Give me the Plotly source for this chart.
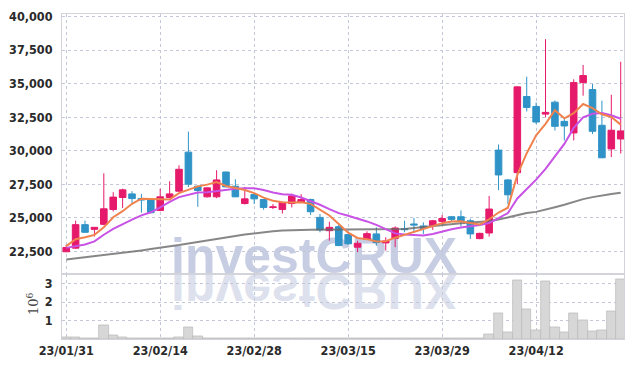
import plotly.graph_objects as go
from plotly.subplots import make_subplots

dates = [
    "23/01/31",
    "23/02/01", "23/02/02", "23/02/03", "23/02/06", "23/02/07", "23/02/08", "23/02/09", "23/02/10", "23/02/13", "23/02/14",
    "23/02/15", "23/02/16", "23/02/17", "23/02/20", "23/02/21", "23/02/22", "23/02/23", "23/02/24", "23/02/27", "23/02/28",
    "23/03/02", "23/03/03", "23/03/06", "23/03/07", "23/03/08", "23/03/09", "23/03/10", "23/03/13", "23/03/14", "23/03/15",
    "23/03/16", "23/03/17", "23/03/20", "23/03/21", "23/03/22", "23/03/23", "23/03/24", "23/03/27", "23/03/28", "23/03/29",
    "23/03/30", "23/03/31", "23/04/03", "23/04/04", "23/04/05", "23/04/06", "23/04/07", "23/04/10", "23/04/11", "23/04/12",
    "23/04/13", "23/04/14", "23/04/17", "23/04/18", "23/04/19", "23/04/20", "23/04/21", "23/04/24", "23/04/25",
]

opens = [22480, 22750, 24500, 24150, 24520, 25630, 26520, 26790, 26450, 26370,
         25560, 26520, 26990, 29900, 27360, 26570, 26570, 28420, 27360, 26070,
         26740, 26370, 25780, 25630, 26070, 26180, 26370, 25040, 24050, 24350,
         23760, 22820, 23410, 23810, 23140, 23480, 24200, 24550, 24400, 24450,
         24740, 25090, 25090, 24790, 23460, 23880, 30050, 27830, 28370, 34040,
         33300, 32730, 33620, 32190, 31330, 35080, 34560, 31900, 30140, 30880]
highs = [23000, 24800, 24800, 24320, 28320, 26920, 27180, 26990, 26790, 26400,
         27180, 27730, 28920, 31430, 27400, 27250, 28550, 28440, 27880, 27310,
         26760, 26400, 26030, 26200, 26810, 26770, 26440, 25290, 24720, 24500,
         23800, 23300, 24000, 24300, 23560, 24370, 24790, 25000, 24670, 24850,
         25220, 25150, 25560, 24940, 23900, 26640, 30470, 27900, 34800, 35520,
         33600, 38310, 33750, 32390, 35320, 36390, 34980, 33730, 34170, 36630]
lows = [22450, 22700, 23900, 23610, 24450, 25480, 25730, 26070, 25390, 25350,
        25500, 26500, 26950, 27300, 25830, 26520, 26470, 27300, 26550, 26000,
        26030, 25610, 25660, 25330, 25780, 26150, 25220, 23930, 23310, 22900,
        23000, 22450, 23380, 22940, 22570, 22820, 23930, 23880, 23810, 24110,
        24500, 24700, 24370, 23440, 23410, 23610, 27070, 26030, 27510, 32930,
        31990, 32490, 31510, 30770, 30770, 34100, 31250, 29450, 29530, 29800]
closes = [22800, 24500, 23930, 24300, 25680, 26550, 27090, 26440, 26330, 25390,
          26570, 26790, 28620, 27510, 27040, 27240, 27830, 27310, 26570, 26420,
          26420, 25780, 25820, 26150, 26640, 26370, 25460, 24110, 24300, 22940,
          23070, 23110, 23830, 23170, 23290, 24250, 24130, 24480, 24220, 24790,
          24960, 24890, 24790, 23810, 23850, 25660, 28200, 26720, 34760, 33230,
          32140, 32860, 31820, 31850, 35080, 35600, 31450, 29480, 31530, 31480]

ma5 = [22900, 23410, 23560, 23740, 24300, 25050, 25500, 26050, 26430, 26400,
       26390, 26380, 26850, 27080, 27350, 27480, 27670, 27380, 27230, 27080,
       26850, 26510, 26280, 26170, 26150, 26170, 26050, 25620, 25180, 24550,
       23900, 23510, 23420, 23240, 23260, 23530, 23750, 23950, 24170, 24420,
       24610, 24730, 24760, 24630, 24520, 24900, 25400, 25760, 28200, 29820,
       31150, 32000, 33020, 32420, 32800, 33480, 33170, 32720, 32520, 31950]
ma20 = [22770, 22870, 23020, 23250, 23750, 24180, 24560, 24880, 25190, 25420,
        25780, 26200, 26550, 26740, 26890, 26920, 27010, 27110, 27180, 27210,
        27210, 27080, 26890, 26770, 26720, 26520, 26270, 25980, 25660, 25360,
        25160, 24960, 24740, 24480, 24180, 23850, 23760, 23710, 23690, 23810,
        24000, 24150, 24280, 24350, 24470, 24620, 24990, 25360, 26450, 27140,
        27850, 28660, 29550, 30510, 31700, 32490, 32760, 32810, 32640, 32390]
ma60 = [21900, 21980, 22060, 22150, 22250, 22330, 22420, 22500, 22580, 22680,
        22770, 22870, 22980, 23100, 23220, 23330, 23420, 23540, 23650, 23760,
        23860, 23950, 24010, 24060, 24100, 24110, 24120, 24125, 24130, 24130,
        24140, 24150, 24160, 24165, 24170, 24175, 24180, 24250, 24330, 24410,
        24480, 24550, 24610, 24660, 24700, 24760, 24880, 25050, 25200, 25360,
        25450, 25600, 25800, 25980, 26200, 26400, 26550, 26680, 26780, 26880]

volume_m = [0.10, 0.08, 0.05, 0.04, 0.72, 0.18, 0.10, 0.05, 0.04, 0.03,
            0.04, 0.06, 0.10, 0.62, 0.12, 0.05, 0.04, 0.04, 0.03, 0.02,
            0.02, 0.02, 0.01, 0.01, 0.02, 0.01, 0.02, 0.04, 0.05, 0.03,
            0.02, 0.01, 0.01, 0.02, 0.04, 0.05, 0.04, 0.01, 0.01, 0.02,
            0.01, 0.02, 0.04, 0.05, 0.02, 0.27, 1.38, 0.34, 3.17, 1.60,
            0.49, 3.12, 0.62, 0.34, 1.38, 1.00, 0.40, 0.49, 1.49, 3.22]

price_ticks = [22500, 25000, 27500, 30000, 32500, 35000, 37500, 40000]
volume_ticks = [1, 2, 3]
date_ticks = [dates[i] for i in range(0, 60, 10)]

UP = "#e61a6b"
DOWN = "#2f93c7"
ORANGE = "#f0824e"
PURPLE = "#c852e6"
GREY = "rgba(105,105,105,0.8)"
GRID = "#c4c7d8"
BORDER = "#d3d3db"
FONT = "DejaVu Sans Condensed, Liberation Sans Narrow, Liberation Sans, sans-serif"
TICKFONT = dict(family=FONT, size=12.5, color="#2a2a2a", weight="bold")

fig = make_subplots(rows=2, cols=1, shared_xaxes=True, vertical_spacing=0.0)

fig.add_trace(go.Candlestick(
    x=dates, open=opens, high=highs, low=lows, close=closes,
    increasing=dict(line=dict(color=UP, width=1), fillcolor=UP),
    decreasing=dict(line=dict(color=DOWN, width=1), fillcolor=DOWN),
    whiskerwidth=0, showlegend=False, hoverinfo="skip"), row=1, col=1)

for vals, col in ((ma60, GREY), (ma20, PURPLE), (ma5, ORANGE)):
    fig.add_trace(go.Scatter(x=dates, y=vals, mode="lines",
                             line=dict(color=col, width=2),
                             showlegend=False, hoverinfo="skip"), row=1, col=1)

fig.add_trace(go.Bar(x=dates, y=volume_m,
                     marker=dict(color="#d7d7d7", line=dict(color="#b9b9b9", width=0.7)),
                     showlegend=False, hoverinfo="skip"), row=2, col=1)

fig.update_xaxes(type="category", range=[-0.45, 59.35], showgrid=True, gridcolor=GRID,
                 griddash="dot", gridwidth=1, tickvals=date_ticks, ticktext=date_ticks,
                 showline=True, linecolor=BORDER, linewidth=1, mirror=True, ticks="",
                 zeroline=False, rangeslider_visible=False)
fig.update_yaxes(showgrid=True, gridcolor=GRID, griddash="dot", gridwidth=1,
                 showline=True, linecolor=BORDER, linewidth=1, mirror=True,
                 zeroline=False, ticks="")

fig.update_layout(
    width=634, height=368,
    margin=dict(l=61, r=9, t=12, b=29),
    plot_bgcolor="white", paper_bgcolor="white",
    bargap=0, boxgap=0.3, boxgroupgap=0,
    font=dict(family=FONT, size=13, color="#2a2a2a"),
    xaxis=dict(showticklabels=False),
    xaxis2=dict(tickfont=TICKFONT),
    yaxis=dict(domain=[0.199, 1.0], range=[20800, 40186], tickvals=price_ticks,
               tickformat=",d", ticklabelstandoff=6, tickfont=TICKFONT),
    yaxis2=dict(domain=[0.0, 0.199], range=[0, 3.5], tickvals=volume_ticks,
                ticklabelstandoff=6, tickfont=TICKFONT),
    annotations=[
        dict(text="investCRUX", xref="paper", yref="paper", x=0.448, y=0.163,
             xanchor="center", yanchor="bottom", showarrow=False,
             font=dict(family="Liberation Sans", size=50, color="#c7cde3", weight="bold")),
        dict(text="investCRUX", xref="paper", yref="paper", x=0.448, y=0.163,
             xanchor="center", yanchor="bottom", showarrow=False,
             font=dict(family="Liberation Sans", size=50, color="#dde1ee", weight="bold")),
        dict(text="10<sup>6</sup>", xref="paper", yref="paper", x=-0.052, y=0.11,
             xanchor="center", yanchor="middle", showarrow=False, textangle=-90,
             font=dict(family="DejaVu Serif", size=13, color="#444")),
    ],
)

post = """
document.body.style.margin = '0';
var gd = document.getElementById('{plot_id}');
var svg = gd.querySelector('svg.main-svg');
var below = gd.querySelector('g.layer-below');
var anns = Array.prototype.slice.call(gd.querySelectorAll('g.infolayer g.annotation'));
var wm = anns.filter(function(a){ return a.textContent === 'investCRUX'; });
if (wm.length === 2 && below && svg) {
  var sr = svg.getBoundingClientRect();
  var tr = wm[0].querySelector('text').getBoundingClientRect();
  var base = (tr.top - sr.top) + tr.height * 0.81;
  below.appendChild(wm[0]);
  below.appendChild(wm[1]);
  wm[1].setAttribute('transform', 'matrix(1,0,0,-1,0,' + (2 * base) + ')');
}
"""

fig.write_html("out.html", post_script=post, config={"displayModeBar": False})
